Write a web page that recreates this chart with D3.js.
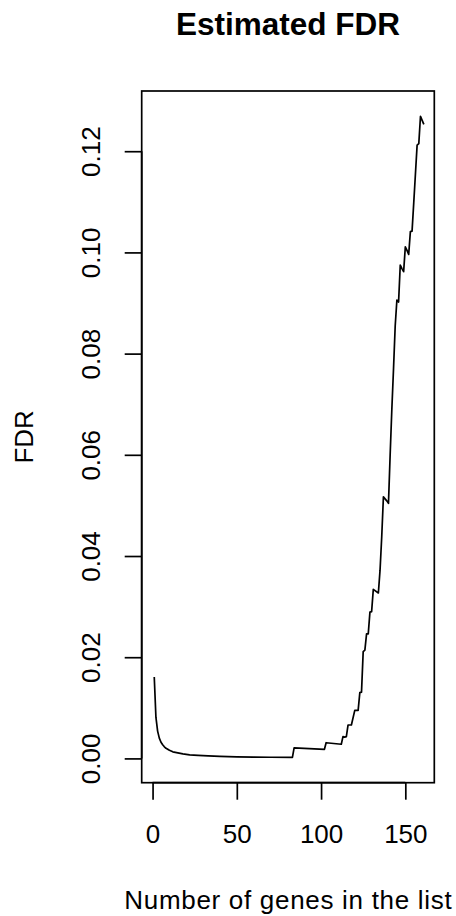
<!DOCTYPE html>
<html>
<head>
<meta charset="utf-8">
<script src="https://cdn.jsdelivr.net/npm/d3@7"></script>
<style>
  body { margin: 0; background: #fff; }
  text { font-family: "Liberation Sans", Arial, Helvetica, sans-serif; fill: #000; }
</style>
</head>
<body>
<div id="chart"></div>
<script>
// data
var genes = [1, 2, 3, 4, 5, 6, 7, 8, 10, 12, 15, 18, 22, 27, 33, 40, 50, 60, 70, 83,
  84, 102, 103, 112, 113, 114, 115, 116, 118, 120, 122, 123, 124, 125, 126, 127, 128,
  129, 130, 131, 134, 135, 136, 137, 138, 139, 140, 141, 142, 143, 144, 145, 146, 147,
  148, 149, 150, 151, 152, 153, 154, 155, 156, 157, 158, 159, 160, 161];
var fdr = [0.0161, 0.0081, 0.0054, 0.0040, 0.0032, 0.0027, 0.0023, 0.0020, 0.0016, 0.0013,
  0.0011, 0.0009, 0.0007, 0.0006, 0.0005, 0.0004, 0.00032, 0.00027, 0.00023, 0.0002,
  0.0021, 0.0018, 0.0031, 0.0028, 0.0043, 0.0042, 0.0043, 0.0066, 0.0066, 0.0095, 0.0095,
  0.0130, 0.0131, 0.0211, 0.0214, 0.0246, 0.0246, 0.0289, 0.0290, 0.0334, 0.0327, 0.0372,
  0.0438, 0.0517, 0.0513, 0.0509, 0.0504, 0.0600, 0.0690, 0.0770, 0.0855, 0.0906, 0.0902,
  0.0975, 0.0968, 0.0962, 0.1011, 0.1004, 0.0996, 0.1041, 0.1042, 0.1098, 0.1155, 0.1212,
  0.1215, 0.1269, 0.1261, 0.1253];
var xTicks = [0, 50, 100, 150];
var yTicks = [0, 0.02, 0.04, 0.06, 0.08, 0.10, 0.12];

var svgWidth = 456;
var svgHeight = 916;
var box = { left: 141.7, right: 434.3, top: 91, bottom: 782.7 };
var tickLen = 17;

var svg = d3.select("#chart")
  .append("svg")
  .attr("width", svgWidth)
  .attr("height", svgHeight);

svg.append("rect")
  .attr("width", svgWidth)
  .attr("height", svgHeight)
  .attr("fill", "#fff");

// R style axis limits (4% padding around data)
var x = d3.scaleLinear()
  .domain([-6.45, 167.2])
  .range([box.left, box.right]);

var y = d3.scaleLinear()
  .domain([-0.0048, 0.1319])
  .range([box.bottom, box.top]);

var points = genes.map(function (g, i) { return [g, fdr[i]]; });

var line = d3.line()
  .x(d => x(d[0]))
  .y(d => y(d[1]));

svg.append("path")
  .datum(points)
  .attr("d", line)
  .attr("fill", "none")
  .attr("stroke", "#000")
  .attr("stroke-width", 1.7)
  .attr("stroke-linejoin", "round");

// plot box
svg.append("rect")
  .attr("x", box.left)
  .attr("y", box.top)
  .attr("width", box.right - box.left)
  .attr("height", box.bottom - box.top)
  .attr("fill", "none")
  .attr("stroke", "#000")
  .attr("stroke-width", 1.7);

// x axis
var xAxis = svg.append("g")
  .attr("transform", "translate(0," + box.bottom + ")")
  .call(d3.axisBottom(x)
    .tickValues(xTicks)
    .tickSize(tickLen)
    .tickPadding(0)
    .tickFormat(d3.format("d")));
xAxis.select(".domain")
  .attr("d", "M" + x(xTicks[0]) + ",0H" + x(xTicks[xTicks.length - 1]))
  .attr("stroke-width", 1.7);
xAxis.selectAll(".tick line").attr("stroke-width", 1.7);
xAxis.selectAll(".tick text")
  .attr("y", 60.6)
  .attr("dy", null)
  .style("font-size", "26px")
  .attr("font-family", null);

// y axis
var yAxis = svg.append("g")
  .attr("transform", "translate(" + box.left + ",0)")
  .call(d3.axisLeft(y)
    .tickValues(yTicks)
    .tickSize(tickLen)
    .tickFormat(d3.format(".2f")));
yAxis.select(".domain")
  .attr("d", "M0," + y(yTicks[0]) + "V" + y(yTicks[yTicks.length - 1]))
  .attr("stroke-width", 1.7);
yAxis.selectAll(".tick line").attr("stroke-width", 1.7);
yAxis.selectAll(".tick text")
  .attr("x", null)
  .attr("dy", null)
  .attr("text-anchor", "middle")
  .attr("transform", "translate(-41.7,0) rotate(-90)")
  .style("font-size", "26px")
  .attr("font-family", null);

// titles
svg.append("text")
  .attr("x", (box.left + box.right) / 2)
  .attr("y", 35)
  .attr("text-anchor", "middle")
  .style("font-size", "31.5px")
  .style("font-weight", "bold")
  .text("Estimated FDR");

svg.append("text")
  .attr("x", (box.left + box.right) / 2 + 0.35)
  .attr("y", 909.3)
  .attr("text-anchor", "middle")
  .style("font-size", "26px")
  .style("letter-spacing", "0.7px")
  .text("Number of genes in the list");

svg.append("text")
  .attr("transform", "translate(33.3," + (box.top + box.bottom) / 2 + ") rotate(-90)")
  .attr("text-anchor", "middle")
  .style("font-size", "26px")
  .text("FDR");
</script>
</body>
</html>
